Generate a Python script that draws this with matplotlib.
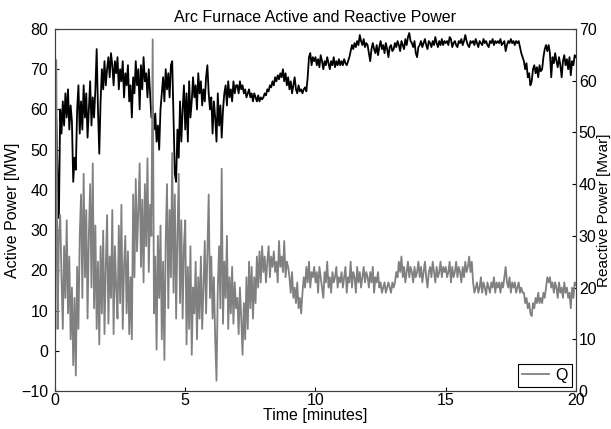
import numpy as np
import matplotlib
matplotlib.use("Agg")
import matplotlib.pyplot as plt

plt.rcParams['font.family'] = ['Liberation Sans', 'DejaVu Sans']
plt.rcParams['font.size'] = 11.5

# sample step of the recording, minutes
dt = 0.05

# active power P [MW], one row per minute (20 samples each)
p_mw = [
    50, 58, 44, 33, 60, 54, 62, 56, 64, 58, 65, 55, 61, 57, 42, 48, 45, 60, 66, 54,
    62, 55, 66, 58, 64, 53, 60, 67, 56, 63, 58, 65, 75, 60, 49, 62, 70, 65, 72, 66,
    70, 73, 68, 74, 71, 66, 72, 69, 73, 65, 70, 67, 72, 63, 69, 66, 71, 62, 66, 58,
    68, 64, 72, 66, 70, 60, 71, 65, 73, 67, 69, 63, 70, 64, 58, 61, 55, 59, 52, 56,
    50, 60, 64, 68, 62, 70, 65, 69, 63, 71, 72, 58, 44, 42, 55, 48, 62, 52, 60, 66,
    55, 64, 52, 67, 58, 62, 68, 63, 66, 60, 69, 64, 67, 61, 65, 62, 68, 71, 64, 60,
    63, 54, 62, 58, 52, 64, 56, 61, 53, 60, 64, 66, 61, 67, 63, 65, 62, 67, 64, 66,
    66, 64, 67, 65, 66, 64, 65, 63, 64, 65, 63, 64, 62, 64, 63, 62, 63.5, 62, 63, 62.5,
    63, 64, 63.5, 65, 64.5, 66, 65.5, 67, 66, 68, 67, 68.5, 67.5, 69, 68, 70, 67, 69, 66, 68,
    65, 67, 64, 66, 68, 65, 64, 66, 64.5, 65, 64, 65, 65.5, 64.5, 68, 73, 74, 71, 73, 72,
    73, 71, 72.5, 70.5, 73.5, 72, 70, 72, 71, 73, 71.5, 70, 72, 71, 73, 70.5, 72, 71, 72.5, 71,
    72, 71, 72.5, 71.5, 71, 72, 73, 74.5, 76, 75, 76.5, 75.5, 77, 76, 78.5, 77, 76, 77.5, 75.5, 76.5,
    76, 74, 72, 75, 76.5, 75, 74, 76, 73.5, 75.5, 77, 75, 76, 74, 76.5, 75, 73, 75.5, 76, 74.5,
    75, 76.5, 75.5, 77, 76, 74.5, 77, 76, 75, 77.5, 76, 78, 79, 77, 76.5, 75.5, 77, 74, 73, 75.5,
    76, 77, 75.5, 76.5, 77.5, 76, 75, 77, 76.5, 75.5, 77, 76, 78, 76.5, 75.5, 77, 76, 77.5, 76, 77,
    76.5, 77, 76, 78, 77.5, 75.5, 76.5, 77, 76, 75.5, 77, 76.5, 77.5, 76, 77, 78.5, 77, 76, 75.5, 77,
    76.5, 77, 76, 77.5, 76.5, 75.5, 77, 76.5, 76, 77.5, 76.5, 77, 76, 75.5, 77, 76.5, 77.5, 76, 77, 76.5,
    77, 76.5, 77.5, 76, 76.5, 77, 74.5, 76, 77, 76.5, 77.5, 76.5, 77, 76, 77, 76.5, 77, 75.5, 74, 73,
    72, 70, 71.5, 68, 69, 66, 67, 70, 71, 69, 70.5, 68, 71, 69.5, 70, 73, 75, 76, 74.5, 76,
    74, 68, 73, 71.5, 74, 72, 70.5, 73, 71, 68, 72, 73.5, 71, 72.5, 70, 73, 68.5, 72, 71, 73.5,
    73,
]

# reactive power Q [Mvar], same sampling
q_mvar = [
    5, 64, 12, 30, 34, 22, 12, 28, 18, 33, 15, 26, 10, 20, 5, 18, 3, 24, 12, 30,
    38, 18, 42, 22, 35, 14, 30, 40, 20, 44, 16, 32, 12, 25, 9, 28, 15, 31, 11, 24,
    34, 13, 26, 18, 35, 11, 28, 20, 14, 32, 17, 36, 12, 24, 30, 15, 27, 11, 22, 10,
    38, 22, 41, 27, 35, 44, 24, 37, 21, 40, 28, 45, 23, 36, 30, 68, 15, 26, 8, 30,
    18, 32, 10, 25, 6, 29, 40, 16, 35, 22, 46, 19, 38, 14, 30, 42, 17, 33, 14, 28,
    33, 9, 24, 12, 28, 7, 20, 15, 25, 10, 22, 14, 26, 12, 20, 29, 15, 27, 38, 18,
    26, 14, 22, 10, 2, 20, 28, 16, 43, 13, 25, 18, 30, 12, 22, 15, 24, 13, 21, 16,
    18, 11, 20, 14, 7, 17, 10, 22, 12, 25, 16, 24, 14, 22, 17, 26, 20, 27, 21, 28,
    23, 26, 21, 25, 28, 22, 26, 24, 27, 23, 25, 21, 29, 24, 26, 23, 29, 22, 25, 24,
    22, 19, 23, 18, 20, 17, 21, 16, 18, 15, 19, 22, 20, 24, 21, 25, 20, 23, 22, 24,
    21, 23, 19, 24, 22, 20, 18, 23, 21, 25, 20, 22, 19, 23, 21, 22, 24, 20, 22, 21,
    23, 20, 22, 24, 19, 22, 21, 25, 20, 23, 22, 19, 24, 21, 23, 20, 22, 24, 21, 23,
    22, 20, 23, 21, 24, 19, 22, 21, 23, 20, 21, 19, 20, 21, 19, 20, 21, 20, 19, 21,
    20, 21, 23, 22, 25, 23, 26, 22, 24, 21, 23, 25, 22, 24, 23, 21, 24, 22, 23, 25,
    22, 24, 21, 23, 25, 22, 20, 23, 24, 22, 25, 23, 21, 24, 22, 23, 25, 22, 24, 23,
    24, 22, 23, 25, 21, 24, 22, 23, 25, 22, 24, 23, 21, 24, 22, 25, 23, 24, 26, 23,
    25, 21, 19, 20, 21, 19, 20, 22, 19, 21, 20, 18.6, 21, 20, 19, 21, 20, 22, 19, 21,
    20, 21, 19, 21, 20, 22, 24, 21, 20, 22, 19, 21, 20, 21, 19, 20, 21, 19, 20, 19,
    19, 17, 18, 16, 17, 15, 14.5, 17, 16, 18, 17, 19, 17, 18, 17, 19, 18, 20, 22, 21,
    22, 20, 21, 19, 21, 20, 18, 21, 19, 20, 18, 21, 19, 20, 18, 19, 16, 20, 18, 21,
    20.5,
]

t_p = np.arange(len(p_mw)) * dt
t_q = np.arange(len(q_mvar)) * dt

fig = plt.figure(figsize=(6.11, 4.29), dpi=100)
ax = fig.add_axes([0.090, 0.0886, 0.8527, 0.8438])
ax.plot(t_p, p_mw, color='black', lw=1.3)
ax.set_xlim(0, 20)
ax.set_ylim(-10, 80)
ax.set_xticks([0, 5, 10, 15, 20])
ax.set_yticks(range(-10, 81, 10))
ax.tick_params(direction='in', length=3, top=False, right=False)
ax.tick_params(axis='x', pad=1.5)
ax.tick_params(axis='y', pad=5)
ax.set_xlabel('Time [minutes]', labelpad=0)
ax.set_ylabel('Active Power [MW]', labelpad=1)
ax.set_title('Arc Furnace Active and Reactive Power', fontsize=11.5, pad=5)

ax2 = ax.twinx()
ax2.plot(t_q, q_mvar, color='#808080', lw=1.3, label='Q')
ax2.set_ylim(0, 70)
ax2.set_yticks(range(0, 71, 10))
ax2.tick_params(direction='in', length=3, pad=2)
ax2.set_ylabel('Reactive Power [Mvar]', fontsize=11, labelpad=0)

for a in (ax, ax2):
    for s in a.spines.values():
        s.set_linewidth(0.8)
        s.set_color('#404040')

leg = ax2.legend(loc='lower right', fancybox=False, framealpha=1,
                 handlelength=1.7, handletextpad=0.4, borderaxespad=0.25,
                 borderpad=0.25)
leg.get_frame().set_edgecolor('black')
leg.get_frame().set_linewidth(0.8)

fig.savefig('out.png', dpi=100)
